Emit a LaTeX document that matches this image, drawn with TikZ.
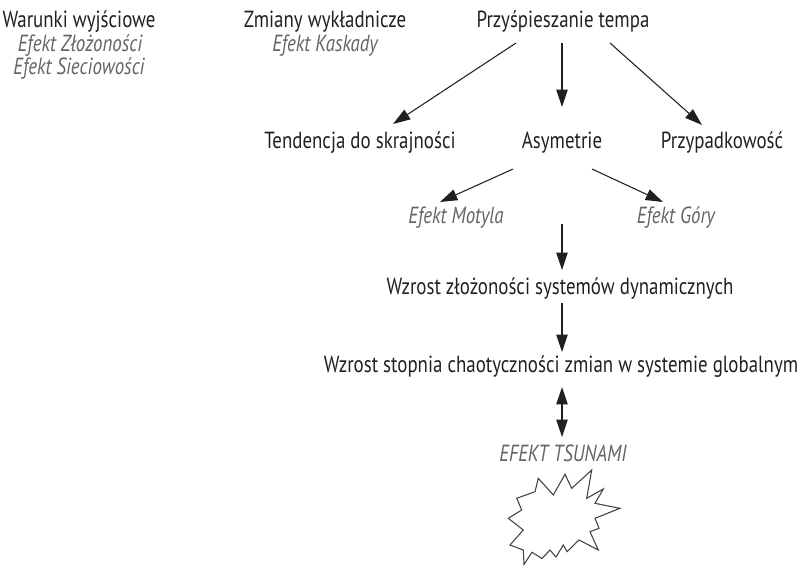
\documentclass[tikz,border=0pt]{standalone}
\usepackage{fontspec}
\setmainfont{PT Sans}[FakeStretch=0.81]
\usetikzlibrary{arrows.meta,calc}
\definecolor{ink}{HTML}{231F20}
\definecolor{soft}{HTML}{636466}
\tikzset{
  lbl/.style={anchor=base,inner sep=0pt,text=ink,font=\fontsize{17.5}{20}\selectfont},
  eff/.style={lbl,text=soft,font=\fontsize{17.5}{20}\selectfont\itshape},
  tip/.tip={Triangle[width=8.5pt,length=13pt]},
  arr/.style={draw=ink,line width=0.8pt,-tip},
  darr/.style={draw=ink,line width=0.8pt,tip-tip},
  burst/.style={draw=ink!85,line width=0.8pt,line join=miter}
}
\begin{document}
\begin{tikzpicture}[x=0.75pt,y=-0.75pt]
\useasboundingbox (0,0) rectangle (802,565);

% top row: starting conditions and driving changes
\node[lbl] (war) at (79,27) {Warunki wyjściowe};
\node[eff] (zlo) at (80,51) {Efekt Złożoności};
\node[eff] (sie) at (79,74) {Efekt Sieciowości};
\node[lbl] (zmi) at (325,27) {Zmiany wykładnicze};
\node[eff] (kas) at (325,51) {Efekt Kaskady};
\node[lbl] (prz) at (563,27) {Przyśpieszanie tempa};

% second row
\node[lbl] (tend) at (360,148) {Tendencja do skrajności};
\node[lbl] (asym) at (562,148) {Asymetrie};
\node[lbl] (przyp) at (722,148) {Przypadkowość};

% third row
\node[eff] (mot) at (456,223) {Efekt Motyla};
\node[eff] (gor) at (676,223) {Efekt Góry};

% chain towards the tsunami effect
\node[lbl] (wzz) at (560,294) {Wzrost złożoności systemów dynamicznych};
\node[lbl] (wzs) at (561,372) {Wzrost stopnia chaotyczności zmian w systemie globalnym};
\node[eff] (tsu) at (563,461) {EFEKT TSUNAMI};

% connectors
\draw[arr] ($(prz.base)+(-47,16)$) -- ($(tend.base)+(33,-24)$);
\draw[arr] ($(prz.base)+(-1,16)$) -- ($(asym.base)+(0,-41)$);
\draw[arr] ($(prz.base)+(47,16)$) -- ($(przyp.base)+(-20,-23)$);
\draw[arr] ($(asym.base)+(-49,21)$) -- ($(mot.base)+(-16,-21)$);
\draw[arr] ($(asym.base)+(30,21)$) -- ($(gor.base)+(-13,-21)$);
\draw[arr] ($(asym.base)+(0,76)$) -- ($(wzz.base)+(2,-24)$);
\draw[arr] ($(wzz.base)+(2,9)$) -- ($(wzs.base)+(1,-20)$);
\draw[darr] ($(wzs.base)+(1,15)$) -- ($(tsu.base)+(-1,-24)$);

% starburst below the tsunami label
\draw[burst] (538.3,478.3) -- (553.3,495) -- (565,474.3) -- (571.7,488.3)
  -- (591.7,470) -- (586.7,498.3) -- (603.3,489) -- (595,503.3)
  -- (620,508.3) -- (595,518.3) -- (599,528.3) -- (590,531.7)
  -- (598.3,550) -- (579,540) -- (567,551.7) -- (563.3,545)
  -- (556,557) -- (550,550) -- (542,558.5) -- (532,552.3)
  -- (524,564.3) -- (523.3,550) -- (510,545) -- (523.3,530)
  -- (508.3,518.3) -- (521.7,510) -- (516.7,498.3) -- (535,491.7) -- cycle;
\end{tikzpicture}
\end{document}
